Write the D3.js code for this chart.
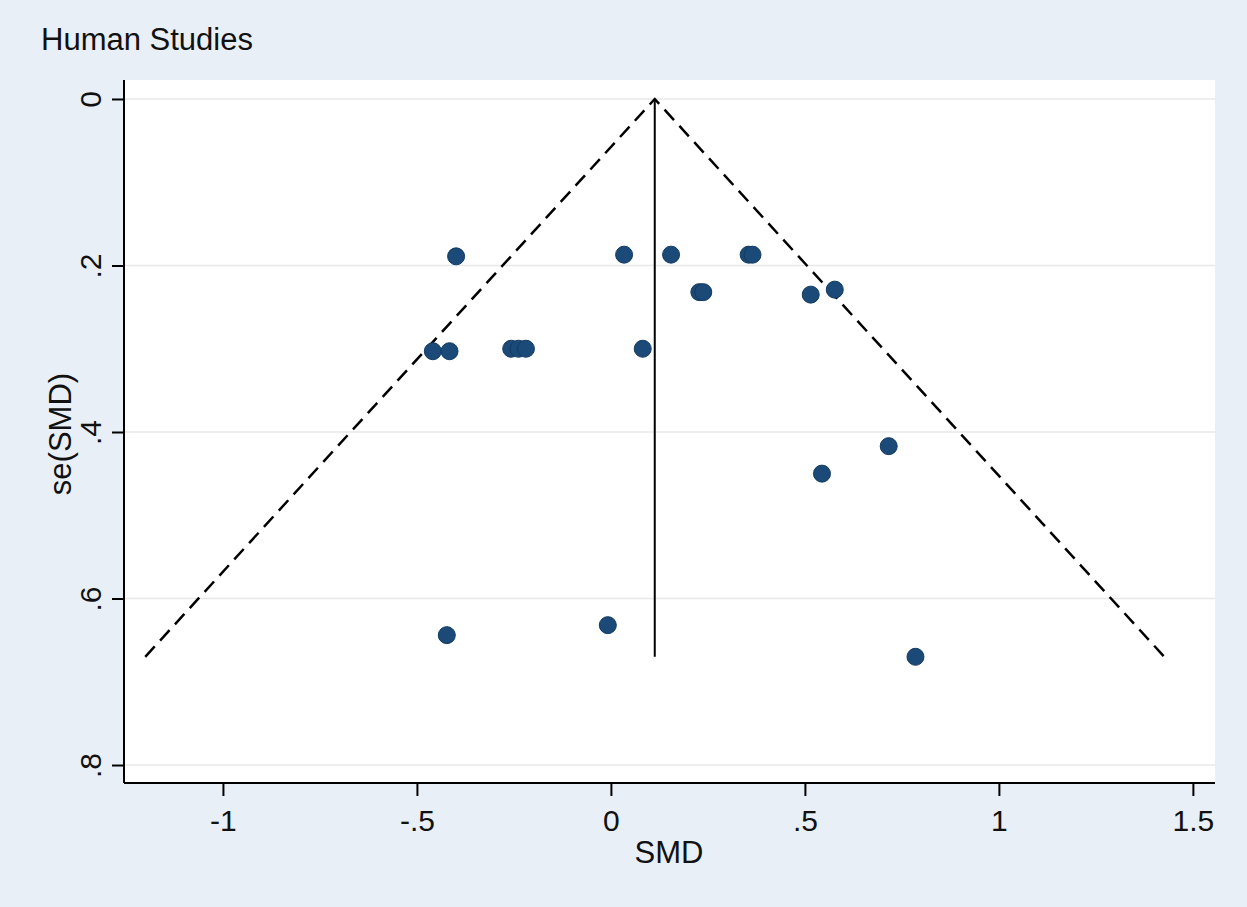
<!DOCTYPE html>
<html><head><meta charset="utf-8">
<script src="https://cdn.jsdelivr.net/npm/d3@7"></script>
<style>
html,body{margin:0;padding:0;background:#e9eff6;}
svg{display:block;font-family:"Liberation Sans",Arial,sans-serif;}
</style></head>
<body><svg id="c" width="1247" height="907"></svg>
<script>
// Data
const smd = [-0.399, 0.034, 0.155, 0.355, 0.365, 0.228, 0.238, 0.515, 0.577,
             -0.459, -0.416, -0.257, -0.238, -0.219, 0.082, 0.716, 0.544, -0.423, -0.008, 0.785];
const seSmd = [0.189, 0.187, 0.187, 0.187, 0.187, 0.232, 0.232, 0.235, 0.229,
               0.303, 0.303, 0.300, 0.300, 0.300, 0.300, 0.417, 0.450, 0.644, 0.632, 0.670];
const pooled = 0.113;
const seMax = 0.670;
const xTicks = [-1, -0.5, 0, 0.5, 1, 1.5];
const xTickLabels = ["-1", "-.5", "0", ".5", "1", "1.5"];
const yTicks = [0, 0.2, 0.4, 0.6, 0.8];
const yTickLabels = ["0", ".2", ".4", ".6", ".8"];

const svg = d3.select("#c");
const L = 124, R = 1215, T = 80, B = 783;
const x = d3.scaleLinear().domain([-1.255, 1.557]).range([L, R]);
const y = d3.scaleLinear().domain([-0.0228, 0.8216]).range([T, B]);
const FF = "Liberation Sans, Arial, sans-serif";

svg.append("rect").attr("width",1247).attr("height",907).attr("fill","#e9eff6");
svg.append("rect").attr("x",L).attr("y",T).attr("width",R-L).attr("height",B-T).attr("fill","#ffffff");

// gridlines
svg.append("g").selectAll("line").data(yTicks).join("line")
  .attr("x1",L).attr("x2",R).attr("y1",d=>y(d)).attr("y2",d=>y(d))
  .attr("stroke","#e6e8ea").attr("stroke-width",1.5);

// Title
svg.append("text").attr("x",41).attr("y",50).attr("font-size",31).attr("fill","#111").text("Human Studies");

// Axes
const xAxis = d3.axisBottom(x).tickValues(xTicks).tickFormat((d,i)=>xTickLabels[i]).tickSize(13).tickPadding(14);
const gx = svg.append("g").attr("transform",`translate(0,${B})`).call(xAxis);
gx.select(".domain").attr("stroke","#000").attr("stroke-width",2).attr("d",`M${L},0H${R}`);
gx.selectAll(".tick line").attr("stroke","#000").attr("stroke-width",2);
gx.selectAll(".tick text").attr("font-size",30).attr("fill","#111").attr("font-family",FF);

const yAxis = d3.axisLeft(y).tickValues(yTicks).tickFormat((d,i)=>yTickLabels[i]).tickSize(12).tickPadding(0);
const gy = svg.append("g").attr("transform",`translate(${L},0)`).call(yAxis);
gy.select(".domain").attr("stroke","#000").attr("stroke-width",2).attr("d",`M0,${T}V${B}`);
gy.selectAll(".tick line").attr("stroke","#000").attr("stroke-width",2);
gy.selectAll(".tick text").attr("font-size",30).attr("fill","#111")
  .attr("font-family",FF)
  .attr("x",0).attr("dy",0).attr("text-anchor","middle")
  .attr("transform","translate(-23,0) rotate(-90)");

// Axis titles
svg.append("text").attr("x",669).attr("y",863).attr("text-anchor","middle")
  .attr("font-size",31).attr("fill","#111").text("SMD");
svg.append("text").attr("transform",`translate(71,434) rotate(-90)`).attr("text-anchor","middle")
  .attr("font-size",31).attr("fill","#111").text("se(SMD)");

// Funnel lines
const pseudo = [
  [[pooled - 1.96*seMax, seMax],[pooled,0],[pooled + 1.96*seMax, seMax]]
];
const line = d3.line().x(d=>x(d[0])).y(d=>y(d[1]));
svg.append("path").attr("d",line(pseudo[0])).attr("fill","none").attr("stroke","#000")
  .attr("stroke-width",2.5).attr("stroke-dasharray","14,8");
svg.append("line").attr("x1",x(pooled)).attr("x2",x(pooled)).attr("y1",y(0)).attr("y2",y(seMax))
  .attr("stroke","#000").attr("stroke-width",2);

// Points
svg.append("g").selectAll("circle").data(smd.map((d,i)=>[d,seSmd[i]])).join("circle")
  .attr("cx",d=>x(d[0])).attr("cy",d=>y(d[1])).attr("r",8.5)
  .attr("fill","#1b4a78").attr("stroke","#133a61").attr("stroke-width",1);
</script></body></html>
